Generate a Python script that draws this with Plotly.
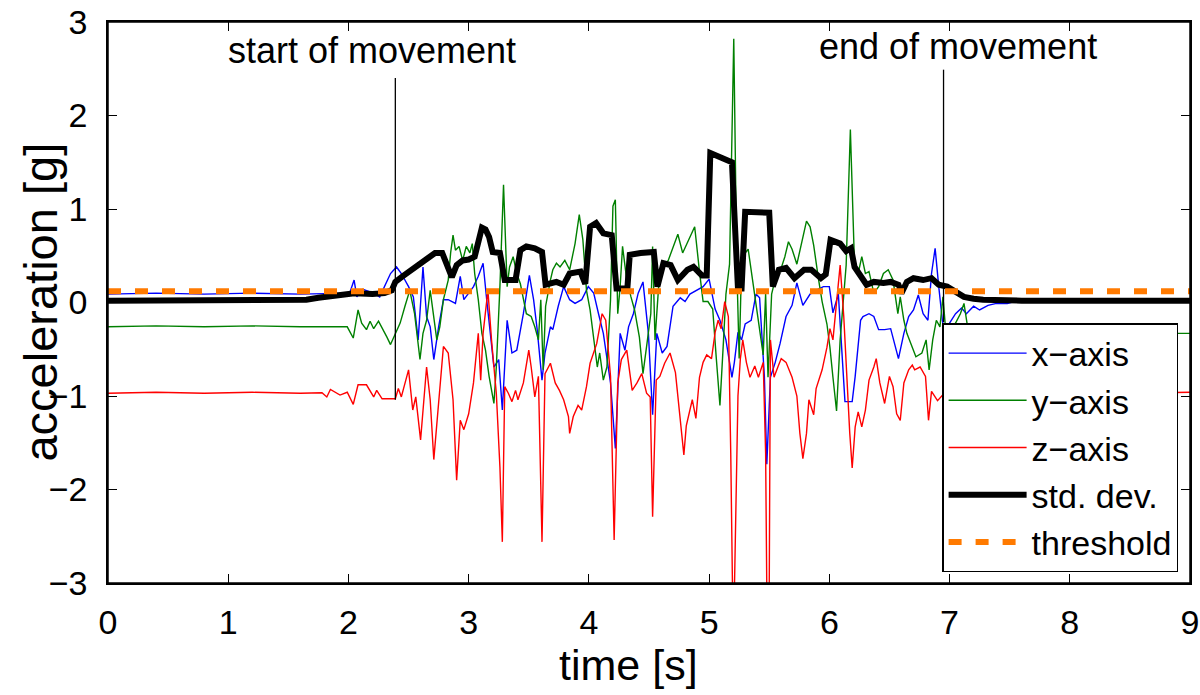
import plotly.graph_objects as go

# ---------------- data ----------------
t_x = [0.00, 0.40, 0.80, 1.20, 1.60, 1.90, 2.01, 2.047, 2.07, 2.12, 2.21, 2.26, 2.30, 2.35, 2.40, 2.44,
       2.50, 2.54, 2.58, 2.62, 2.65, 2.68, 2.71, 2.75, 2.79, 2.83, 2.89, 2.93, 2.96, 3.00, 3.04, 3.08,
       3.12, 3.15, 3.21, 3.25, 3.28, 3.32, 3.36, 3.40, 3.455, 3.505, 3.54, 3.57, 3.61, 3.635, 3.68, 3.70,
       3.745, 3.79, 3.84, 3.885, 3.94, 3.995, 4.04, 4.08, 4.12, 4.18, 4.22, 4.26, 4.30, 4.33, 4.37, 4.41,
       4.45, 4.495, 4.53, 4.565, 4.61, 4.65, 4.70, 4.76, 4.80, 4.84, 4.89, 4.95, 5.00, 5.05, 5.09, 5.14,
       5.19, 5.21, 5.24, 5.27, 5.30, 5.35, 5.39, 5.42, 5.46, 5.48, 5.51, 5.55, 5.59, 5.64, 5.69, 5.73,
       5.78, 5.84, 5.89, 5.95, 6.00, 6.03, 6.075, 6.10, 6.13, 6.19, 6.215, 6.26, 6.28, 6.33, 6.37, 6.41,
       6.46, 6.51, 6.53, 6.575, 6.62, 6.66, 6.70, 6.74, 6.78, 6.82, 6.85, 6.88, 6.91, 6.94, 6.96, 7.00,
       7.05, 7.10, 7.14, 7.20, 7.25, 7.32, 7.39, 7.48, 7.59, 7.80, 8.10, 8.40, 8.70, 9.00]
acc_x = [0.09, 0.10, 0.09, 0.10, 0.09, 0.10, 0.10, 0.24, 0.06, 0.14, 0.10, 0.06, 0.17, 0.31, 0.38, 0.31,
         0.17, 0.06, -0.40, 0.38, -0.15, -0.26, -0.61, -0.26, 0.03, 0.03, -0.01, 0.28, 0.03, 0.10, 0.17, 0.28,
         0.42, 0.03, -0.69, -0.61, -1.15, -0.19, -0.54, -0.51, -0.12, 0.29, 0.03, -0.29, -0.83, -0.54, -0.26, -0.29,
         -0.04, 0.17, 0.03, -0.01, 0.03, 0.17, 0.10, -0.12, -0.33, -0.86, -1.56, -0.33, -0.51, -0.26, -0.12, 0.10,
         0.22, -0.33, -1.20, -0.33, -0.54, -0.47, -0.04, 0.05, 0.01, 0.09, 0.13, 0.17, 0.25, -0.07, -0.19, -0.40,
         -0.80, -0.64, -0.32, -0.40, -0.23, -0.19, 0.09, 0.05, -0.80, -1.73, -0.80, -0.64, -0.44, -0.15, -0.03, 0.21,
         -0.03, 0.09, 0.13, 0.17, 0.17, -0.11, 0.09, -0.40, -1.06, -1.06, -0.79, -0.19, -0.15, -0.12, -0.15, -0.29,
         -0.29, -0.28, -0.37, -0.60, -0.33, -0.15, -0.08, 0.08, -0.12, -0.19, 0.31, 0.58, 0.17, -0.19, -0.33, -0.22,
         -0.12, -0.06, -0.12, -0.04, -0.08, -0.03, -0.01, -0.01, 0.03, 0.02, 0.03, 0.02, 0.03, 0.02]

t_y = [0.00, 0.40, 0.80, 1.20, 1.60, 1.99, 2.04, 2.08, 2.11, 2.15, 2.18, 2.21, 2.25, 2.29, 2.32, 2.35,
       2.39, 2.43, 2.47, 2.51, 2.55, 2.595, 2.62, 2.65, 2.68, 2.71, 2.735, 2.76, 2.79, 2.83, 2.85, 2.87,
       2.89, 2.92, 2.95, 2.98, 3.01, 3.03, 3.05, 3.08, 3.11, 3.14, 3.17, 3.21, 3.23, 3.26, 3.29, 3.32,
       3.34, 3.37, 3.40, 3.43, 3.455, 3.48, 3.52, 3.55, 3.58, 3.60, 3.62, 3.64, 3.68, 3.70, 3.73, 3.76,
       3.80, 3.84, 3.885, 3.92, 3.95, 3.98, 4.01, 4.04, 4.07, 4.09, 4.12, 4.15, 4.18, 4.20, 4.22, 4.24,
       4.26, 4.28, 4.315, 4.35, 4.38, 4.42, 4.45, 4.48, 4.515, 4.53, 4.55, 4.58, 4.62, 4.66, 4.70, 4.74,
       4.78, 4.825, 4.88, 4.92, 4.95, 4.99, 5.03, 5.06, 5.09, 5.12, 5.14, 5.17, 5.205, 5.23, 5.25, 5.27,
       5.30, 5.325, 5.37, 5.41, 5.45, 5.47, 5.49, 5.52, 5.55, 5.59, 5.63, 5.66, 5.69, 5.73, 5.77, 5.81,
       5.84, 5.87, 5.91, 5.94, 5.98, 6.005, 6.03, 6.06, 6.09, 6.14, 6.175, 6.21, 6.24, 6.27, 6.30, 6.33,
       6.37, 6.41, 6.45, 6.49, 6.53, 6.57, 6.59, 6.62, 6.645, 6.69, 6.72, 6.77, 6.805, 6.83, 6.86, 6.89,
       6.92, 6.945, 6.97, 7.005, 7.05, 7.09, 7.12, 7.15, 7.185, 7.21, 7.25, 7.30, 7.35, 7.42, 7.50, 7.60,
       7.80, 8.00, 8.30, 8.60, 9.00]
acc_y = [-0.26, -0.25, -0.26, -0.25, -0.26, -0.26, -0.38, -0.08, -0.22, -0.29, -0.20, -0.28, -0.20, -0.29, -0.37, -0.45,
         -0.33, -0.22, -0.04, 0.13, -0.12, -0.61, -0.33, -0.19, 0.13, -0.19, -0.40, -0.26, 0.03, 0.24, 0.53, 0.72,
         0.56, 0.60, 0.45, 0.60, 0.53, 0.63, 0.31, 0.03, -0.33, -0.51, -0.79, -1.08, -0.69, 0.17, 1.26, 0.17,
         0.38, 0.49, 0.31, 0.20, 0.03, -0.12, -0.15, -0.26, -0.40, 0.03, -0.72, -0.04, 0.24, 0.35, 0.42, 0.38,
         0.45, 0.35, 0.63, 0.94, 0.67, 0.13, -0.08, -0.40, -0.69, -0.54, -0.83, -0.69, 0.03, 1.03, 1.10, -0.12,
         0.17, 0.60, 0.24, 0.06, -0.08, -0.37, -0.76, -0.47, -0.12, 0.60, -0.40, 0.17, 0.38, 0.45, 0.60, 0.73,
         0.53, 0.65, 0.81, 0.33, 0.01, 0.01, -0.07, -0.60, -1.10, -0.40, 0.09, 0.41, 2.82, 0.41, -0.60, 0.41,
         0.53, 0.57, 0.17, -0.23, -0.56, 0.09, -0.80, 0.09, 0.25, 0.33, 0.49, 0.65, 0.57, 0.41, 0.65, 0.87,
         0.81, 0.61, 0.25, 0.01, -0.23, -0.48, -0.80, -1.16, -0.40, 0.40, 1.85, 0.38, 0.31, 0.49, 0.31, 0.33,
         0.10, 0.17, 0.31, 0.35, 0.24, -0.12, 0.06, -0.19, -0.33, -0.47, -0.58, -0.54, -0.40, -0.72, -0.40, -0.19,
         -0.26, 0.06, -0.33, -0.29, -0.22, -0.12, -0.01, -0.26, -0.44, -0.33, -0.26, -0.33, -0.37, -0.35, -0.37, -0.36,
         -0.37, -0.35, -0.34, -0.33, -0.33]

t_z = [0.00, 0.40, 0.80, 1.20, 1.60, 1.78, 1.82, 1.85, 1.93, 1.99, 2.04, 2.08, 2.15, 2.21, 2.235, 2.28,
       2.33, 2.39, 2.415, 2.44, 2.50, 2.535, 2.56, 2.60, 2.65, 2.68, 2.71, 2.75, 2.79, 2.83, 2.87, 2.90,
       2.93, 2.96, 3.00, 3.04, 3.08, 3.10, 3.12, 3.16, 3.19, 3.23, 3.26, 3.28, 3.30, 3.33, 3.36, 3.39,
       3.41, 3.455, 3.50, 3.52, 3.55, 3.58, 3.61, 3.635, 3.68, 3.72, 3.755, 3.79, 3.83, 3.84, 3.87, 3.91,
       3.94, 3.98, 4.01, 4.065, 4.11, 4.14, 4.18, 4.21, 4.24, 4.27, 4.315, 4.36, 4.40, 4.44, 4.48, 4.51,
       4.53, 4.56, 4.59, 4.63, 4.675, 4.72, 4.75, 4.79, 4.81, 4.84, 4.86, 4.89, 4.92, 4.95, 4.98, 5.02,
       5.05, 5.075, 5.10, 5.13, 5.16, 5.18, 5.195, 5.21, 5.23, 5.24, 5.26, 5.28, 5.31, 5.34, 5.38, 5.41,
       5.45, 5.47, 5.48, 5.50, 5.51, 5.54, 5.575, 5.60, 5.64, 5.69, 5.73, 5.755, 5.78, 5.81, 5.83, 5.87,
       5.89, 5.94, 5.98, 6.005, 6.03, 6.06, 6.09, 6.12, 6.145, 6.17, 6.19, 6.215, 6.24, 6.27, 6.30, 6.33,
       6.37, 6.39, 6.42, 6.46, 6.50, 6.53, 6.56, 6.59, 6.62, 6.66, 6.69, 6.71, 6.755, 6.80, 6.825, 6.85,
       6.90, 6.95, 7.05, 7.20, 7.50, 8.00, 8.50, 9.00]
acc_z = [-0.97, -0.96, -0.97, -0.96, -0.97, -0.965, -1.01, -0.93, -0.99, -0.96, -1.09, -0.88, -0.88, -1.01, -0.94, -1.03,
         -1.03, -1.03, -0.92, -1.01, -0.72, -1.15, -1.01, -1.47, -0.69, -1.04, -1.68, -1.04, -0.47, -0.54, -1.04, -1.90,
         -1.26, -1.36, -1.19, -0.86, -0.33, -0.83, -0.33, 0.13, -0.40, -0.97, -1.76, -2.56, -0.90, -0.97, -1.06, -0.94,
         -1.04, -0.86, -0.51, -0.69, -1.01, -0.79, -2.56, -0.76, -0.65, -0.86, -0.94, -1.04, -1.22, -1.40, -1.22, -1.10,
         -1.15, -0.90, -0.65, -0.44, -0.12, -0.19, -0.79, -2.54, -0.86, -0.61, -0.51, -0.94, -0.86, -0.76, -0.97, -1.01,
         -2.29, -0.83, -0.79, -0.65, -0.54, -0.75, -1.10, -1.63, -1.32, -1.16, -1.04, -1.24, -0.80, -0.64, -0.56, -0.60,
         -0.32, -0.19, -0.28, 0.01, -0.15, -1.61, -3.10, -3.10, -1.60, -1.00, -0.60, -0.40, -0.64, -0.80, -0.68, -0.80,
         -0.64, -1.61, -3.10, -3.10, -0.40, -0.80, -0.68, -0.60, -0.64, -0.80, -1.00, -1.40, -1.67, -1.40, -1.04, -1.20,
         -0.92, -0.72, -0.48, -0.28, -0.40, 0.01, 0.40, -0.15, -0.86, -1.40, -1.77, -1.33, -1.17, -1.33, -1.15, -0.83,
         -0.69, -0.60, -0.86, -1.08, -0.79, -0.90, -1.19, -1.26, -0.86, -0.72, -0.67, -0.72, -0.69, -0.79, -1.26, -0.95,
         -1.05, -0.98, -1.02, -0.96, -0.97, -0.96, -0.97, -0.96]

t_std = [0.00, 0.50, 1.00, 1.50, 1.65, 1.75, 1.85, 1.95, 2.05, 2.20, 2.30, 2.36, 2.39, 2.45, 2.52, 2.60,
         2.66, 2.72, 2.78, 2.82, 2.86, 2.90, 2.95, 3.00, 3.05, 3.11, 3.14, 3.17, 3.20, 3.26, 3.30, 3.39,
         3.43, 3.48, 3.55, 3.61, 3.64, 3.73, 3.79, 3.84, 3.93, 3.97, 4.01, 4.06, 4.12, 4.19, 4.23, 4.32,
         4.34, 4.43, 4.54, 4.57, 4.62, 4.68, 4.74, 4.82, 4.87, 4.94, 4.98, 5.01, 5.09, 5.19, 5.24, 5.27,
         5.30, 5.40, 5.50, 5.53, 5.58, 5.64, 5.71, 5.79, 5.85, 5.93, 5.97, 6.01, 6.09, 6.14, 6.18, 6.21,
         6.26, 6.31, 6.37, 6.45, 6.51, 6.575, 6.60, 6.645, 6.70, 6.78, 6.85, 6.91, 6.98, 7.05, 7.12, 7.20,
         7.28, 7.60, 8.00, 8.50, 9.00]
std_dev = [0.02, 0.02, 0.02, 0.02, 0.03, 0.05, 0.07, 0.09, 0.10, 0.09, 0.10, 0.13, 0.22, 0.28, 0.35, 0.43,
           0.48, 0.53, 0.53, 0.40, 0.27, 0.40, 0.45, 0.46, 0.49, 0.80, 0.78, 0.70, 0.54, 0.53, 0.24, 0.24,
           0.56, 0.60, 0.58, 0.54, 0.19, 0.22, 0.19, 0.31, 0.33, 0.20, 0.81, 0.85, 0.74, 0.72, 0.15, 0.15,
           0.51, 0.53, 0.54, 0.17, 0.42, 0.40, 0.24, 0.35, 0.38, 0.29, 0.29, 1.60, 1.55, 1.50, 0.15, 0.15,
           0.97, 0.96, 0.96, 0.17, 0.35, 0.37, 0.26, 0.35, 0.35, 0.26, 0.30, 0.67, 0.63, 0.55, 0.58, 0.38,
           0.28, 0.19, 0.22, 0.21, 0.22, 0.19, 0.10, 0.22, 0.26, 0.24, 0.26, 0.19, 0.17, 0.12, 0.06, 0.04,
           0.03, 0.02, 0.02, 0.02, 0.02]

threshold_t = [0.0, 9.0]
threshold_value = [0.12, 0.12]

event_labels = ["start of movement", "end of movement"]
event_times = [2.39, 6.95]
event_line_top = [2.40, 2.49]
event_line_bottom = [-1.04, -0.21]
event_label_t = [2.20, 7.07]
event_label_value = [2.70, 2.74]

x_ticks = [0, 1, 2, 3, 4, 5, 6, 7, 8, 9]
y_ticks = [-3, -2, -1, 0, 1, 2, 3]

# ---------------- figure ----------------
FONT = "Liberation Sans, Arial, Helvetica, sans-serif"

fig = go.Figure()
fig.add_trace(go.Scatter(x=t_x, y=acc_x, mode="lines", name="x\u2212axis",
                         line=dict(color="#0000FF", width=1.4)))
fig.add_trace(go.Scatter(x=t_y, y=acc_y, mode="lines", name="y\u2212axis",
                         line=dict(color="#008000", width=1.4)))
fig.add_trace(go.Scatter(x=t_z, y=acc_z, mode="lines", name="z\u2212axis",
                         line=dict(color="#FF0000", width=1.4)))
fig.add_trace(go.Scatter(x=t_std, y=std_dev, mode="lines", name="std. dev.",
                         line=dict(color="#000000", width=6)))
fig.add_trace(go.Scatter(x=threshold_t, y=threshold_value, mode="lines", name="threshold",
                         line=dict(color="#FF7A00", width=6, dash="13px,14px")))

for i in range(len(event_times)):
    fig.add_trace(go.Scatter(x=[event_times[i], event_times[i]],
                             y=[event_line_bottom[i], event_line_top[i]],
                             mode="lines", showlegend=False, hoverinfo="skip",
                             line=dict(color="#000000", width=1.3)))
    fig.add_annotation(x=event_label_t[i], y=event_label_value[i], xref="x", yref="y",
                       text=event_labels[i], showarrow=False, xanchor="center", yanchor="middle",
                       font=dict(family=FONT, size=36, color="black"))

# axis titles
fig.add_annotation(x=-0.0628, y=0.5, xref="paper", yref="paper", text="acceleration [g]",
                   textangle=-90, showarrow=False, xanchor="center", yanchor="middle",
                   font=dict(family=FONT, size=47, color="black"))
fig.add_annotation(x=0.4806, y=-0.146, xref="paper", yref="paper", text="time [s]",
                   showarrow=False, xanchor="center", yanchor="middle",
                   font=dict(family=FONT, size=43, color="black"))

# plot frame (box around the axes)
fig.add_shape(type="rect", xref="paper", yref="paper", x0=0, y0=0, x1=1, y1=1,
              line=dict(color="black", width=1.5), layer="above")

axis_common = dict(showgrid=False, zeroline=False, showline=True, linecolor="black", linewidth=1.5,
                   mirror="ticks", ticks="inside", ticklen=9, tickwidth=1.3, tickcolor="black",
                   automargin=False, ticklabeloverflow="allow",
                   tickfont=dict(family=FONT, size=34, color="black"))

fig.update_layout(
    width=1200, height=695,
    margin=dict(l=108, r=10, t=22, b=112, autoexpand=False),
    paper_bgcolor="white", plot_bgcolor="white",
    xaxis=dict(range=[0, 9], tickvals=x_ticks, ticklabelstandoff=8, **axis_common),
    yaxis=dict(range=[-3, 3], tickvals=y_ticks, ticklabelstandoff=12, **axis_common),
    legend=dict(x=0.989, y=0.0196, xanchor="right", yanchor="bottom",
                bgcolor="white", bordercolor="black", borderwidth=1.5,
                font=dict(family=FONT, size=34, color="black"),
                itemwidth=78, tracegroupgap=0),
    showlegend=True,
)

# remove the page's default body margin so the figure sits at the window's top-left corner
fig.write_html("out.html", config={"displayModeBar": False},
               post_script="document.body.style.margin='0';document.body.style.overflow='hidden';")
